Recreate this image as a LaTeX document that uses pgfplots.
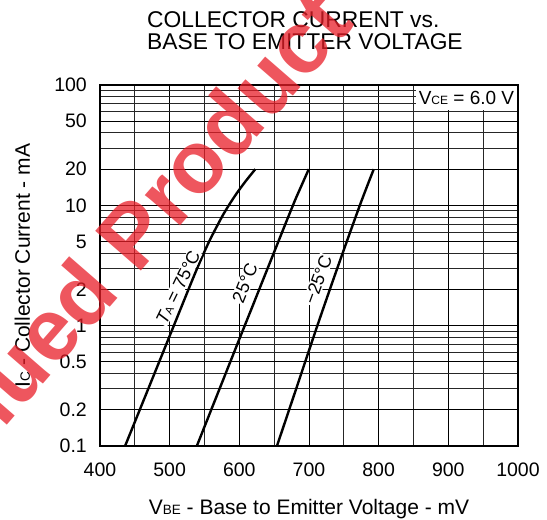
\documentclass[border=0pt]{standalone}
\usepackage{pgfplots}
\pgfplotsset{compat=1.18}
\usepackage{fontspec}
\setmainfont{Liberation Sans}
\definecolor{wm}{RGB}{232,30,40}

\begin{document}
\begin{tikzpicture}
\begin{axis}[
  scale only axis,
  width=418pt, height=361pt,
  xmin=400, xmax=1000,
  ymode=log, ymin=0.1, ymax=100,
  xtick={400,500,...,1000},
  xticklabels={400,500,600,700,800,900,1000},
  minor x tick num=1,
  ytick={0.1,0.2,0.5,1,2,5,10,20,50,100},
  yticklabels={0.1,0.2,0.5,1,2,5,10,20,50,100},
  minor ytick={0.3,0.4,0.6,0.7,0.8,0.9,3,4,6,7,8,9,30,40,60,70,80,90},
  grid=both,
  major grid style={black, line width=0.9pt},
  minor grid style={black!85, line width=0.8pt},
  major tick length=0pt, minor tick length=0pt,
  axis line style={line width=1.6pt},
  tick label style={font=\fontsize{19.5}{20}\selectfont, inner sep=0pt},
  xticklabel style={anchor=north, yshift=-16.5pt},
  yticklabel style={anchor=east, xshift=-13pt},
  xlabel={V{\fontsize{13.5}{14}\selectfont BE} - Base to Emitter Voltage - mV},
  ylabel={I{\fontsize{13.5}{14}\selectfont C} - Collector Current - mA},
  label style={font=\fontsize{21}{22}\selectfont, inner sep=0pt},
  xlabel style={at={(rel axis cs:0.5,-0.18837)}, anchor=base},
  ylabel style={at={(rel axis cs:-0.16746,0.5)}, anchor=base},
]
% T_A = 75 C
\addplot[black, line width=2.4pt, smooth] coordinates {
  (436,0.1) (464,0.251) (492,0.631) (527,2) (541.2,3.16) (556.7,5.01) (574.6,7.94)
  (584.9,10) (596.3,12.6) (609,15.85) (623,20)};
% 25 C
\addplot[black, line width=2.4pt, smooth] coordinates {
  (539,0.1) (595.5,0.665) (618.5,1.43) (635.7,2.54) (652.9,4.51) (667.3,7.28) (680.2,11.1) (689.7,14.8) (699.7,20)};
% -25 C
\addplot[black, line width=2.4pt, smooth] coordinates {
  (654,0.1) (681.7,0.3) (712,1) (740.6,3) (773,10) (793,20)};

\node[rotate=64, fill=white, inner sep=1pt, font=\fontsize{18}{18}\selectfont]
  at (axis cs:512,2.09) {\itshape T\upshape{\fontsize{11}{11}\selectfont A} = 75°C};
\node[rotate=68, fill=white, inner sep=1pt, font=\fontsize{18}{18}\selectfont]
  at (axis cs:608,2.26) {25°C};
\node[rotate=70, fill=white, inner sep=1pt, font=\fontsize{18}{18}\selectfont]
  at (axis cs:713,2.4) {−25°C};
\node[anchor=north east, fill=white, inner sep=0pt, minimum width=101pt, minimum height=24pt,
  font=\fontsize{19}{19}\selectfont]
  at ([xshift=-0.8pt,yshift=-0.8pt]rel axis cs:1,1) {V{\fontsize{12}{12}\selectfont CE} = 6.0 V};
\coordinate (sw) at (rel axis cs:0,0);
\end{axis}

\begin{scope}[shift={(sw)}, x=1pt, y=-1pt]
\begin{scope}[shift={(-100,-446)}]
  \coordinate (o) at (0,0);
  \coordinate (e) at (547,520);
  \node[anchor=base west, inner sep=0pt, font=\fontsize{22.8}{23}\selectfont]
    at (147,27.7) {COLLECTOR CURRENT vs.};
  \node[anchor=base west, inner sep=0pt, font=\fontsize{22.8}{23}\selectfont]
    at (147,50) {BASE TO EMITTER VOLTAGE};
  \node[anchor=base east, rotate=49, inner sep=0pt, text=wm, opacity=0.75,
    font=\bfseries\fontsize{88}{88}\selectfont] at (356,24) {Discontinued Product};
\end{scope}
\end{scope}
\pgfresetboundingbox
\path[use as bounding box] (o) rectangle (e);
\end{tikzpicture}
\end{document}
